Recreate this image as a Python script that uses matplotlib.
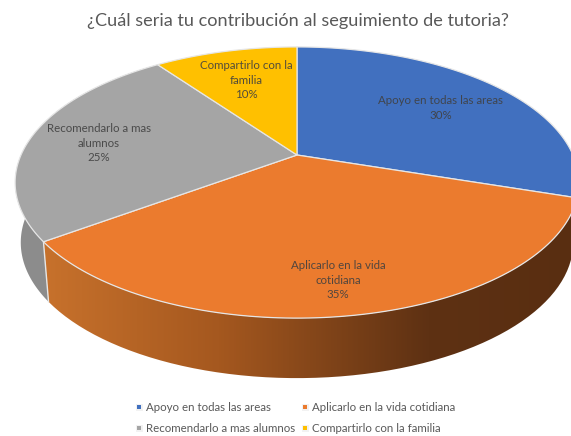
import numpy as np
import matplotlib
matplotlib.use("Agg")
import matplotlib.pyplot as plt
from matplotlib.patches import Polygon, PathPatch, Rectangle
from matplotlib.path import Path
from matplotlib.colors import LinearSegmentedColormap

title = "¿Cuál seria tu contribución al seguimiento de tutoria?"
categories = ["Apoyo en todas las areas", "Aplicarlo en la vida cotidiana",
              "Recomendarlo a mas alumnos", "Compartirlo con la familia"]
label_lines = ["Apoyo en todas las areas", "Aplicarlo en la vida\ncotidiana",
               "Recomendarlo a mas\nalumnos", "Compartirlo con la\nfamilia"]
shares = [30, 35, 25, 10]
colors = ["#4170BF", "#EB7B2E", "#A5A5A5", "#FFC000"]
label_pos = [(441, 108), (338, 280), (99, 143), (246, 80)]
legend_pos = [(139, 407), (305, 407), (139, 428), (305, 428)]

plt.rcParams["font.family"] = ["Lato", "DejaVu Sans"]
fig = plt.figure(figsize=(5.71, 4.36), dpi=100)
ax = fig.add_axes([0, 0, 1, 1])
ax.set_xlim(0, 571)
ax.set_ylim(436, 0)
ax.axis("off")

CX, CY, RX, RY, K, DEPTH, BOTTOM_SCALE = 297, 155, 276, 130, 0.203, 60, 0.98


def project(theta, r=1.0):
    u, v = r * np.sin(theta), r * np.cos(theta)
    w = 1 + K * v
    return CX + RX * u / w, CY - RY * v / w


edges = np.radians(np.concatenate([[0], np.cumsum(shares)]) * 3.6)
LINE = "#E6E6E6"


def side(a, b):
    t = np.linspace(a, b, 120)
    x, y = project(t)
    xb = CX + (x - CX) * BOTTOM_SCALE
    return np.r_[x, xb[::-1]], np.r_[y, y[::-1] + DEPTH]


# gray side wall
x, y = side(edges[2], edges[3])
ax.add_patch(Polygon(np.c_[x, y], fc="#8C8C8C", ec="none", zorder=1))
# orange side wall with gradient
x, y = side(edges[1], edges[2])
poly = PathPatch(Path(np.c_[x, y]), fc="none", ec="none", transform=ax.transData)
ax.add_patch(poly)
cmap = LinearSegmentedColormap.from_list(
    "wall", [(0, "#C8722C"), (0.33, "#A5581F"), (0.72, "#5E3113"), (1, "#592E11")])
im = ax.imshow(np.linspace(0, 1, 256)[None, :], extent=(40, 580, 436, 0), cmap=cmap,
               aspect="auto", zorder=2)
im.set_clip_path(poly)
ax.set_xlim(0, 571)
ax.set_ylim(436, 0)
bx, by = project(np.array([edges[2]]))
ax.plot([bx[0], CX + (bx[0] - CX) * BOTTOM_SCALE], [by[0], by[0] + DEPTH],
        color=LINE, lw=1, zorder=3)

# top faces
for i, c in enumerate(colors):
    t = np.linspace(edges[i], edges[i + 1], 100)
    x, y = project(t)
    pts = np.c_[np.r_[CX, x], np.r_[CY, y]]
    ax.add_patch(Polygon(pts, fc=c, ec=LINE, lw=0.9, joinstyle="round", zorder=4))

# data labels
for (lx, ly), name, s in zip(label_pos, label_lines, shares):
    ax.text(lx, ly, f"{name}\n{s}%", ha="center", va="center", fontsize=8.3,
            color="#404040", alpha=0.9, linespacing=1.42, zorder=5)

ax.text(297.5, 21, title, ha="center", va="center", fontsize=13.05, color="#595959")

# legend
for (lx, ly), name, c in zip(legend_pos, categories, colors):
    ax.add_patch(Rectangle((lx - 3.5, ly - 3.5), 7, 7, fc="#F2F2F2", ec="none"))
    ax.add_patch(Rectangle((lx - 2, ly - 2), 4, 4, fc=c, ec="none"))
    ax.text(lx + 7.5, ly, name, ha="left", va="center", fontsize=8.3, color="#595959")

fig.savefig("out.png", dpi=100, facecolor="white")
